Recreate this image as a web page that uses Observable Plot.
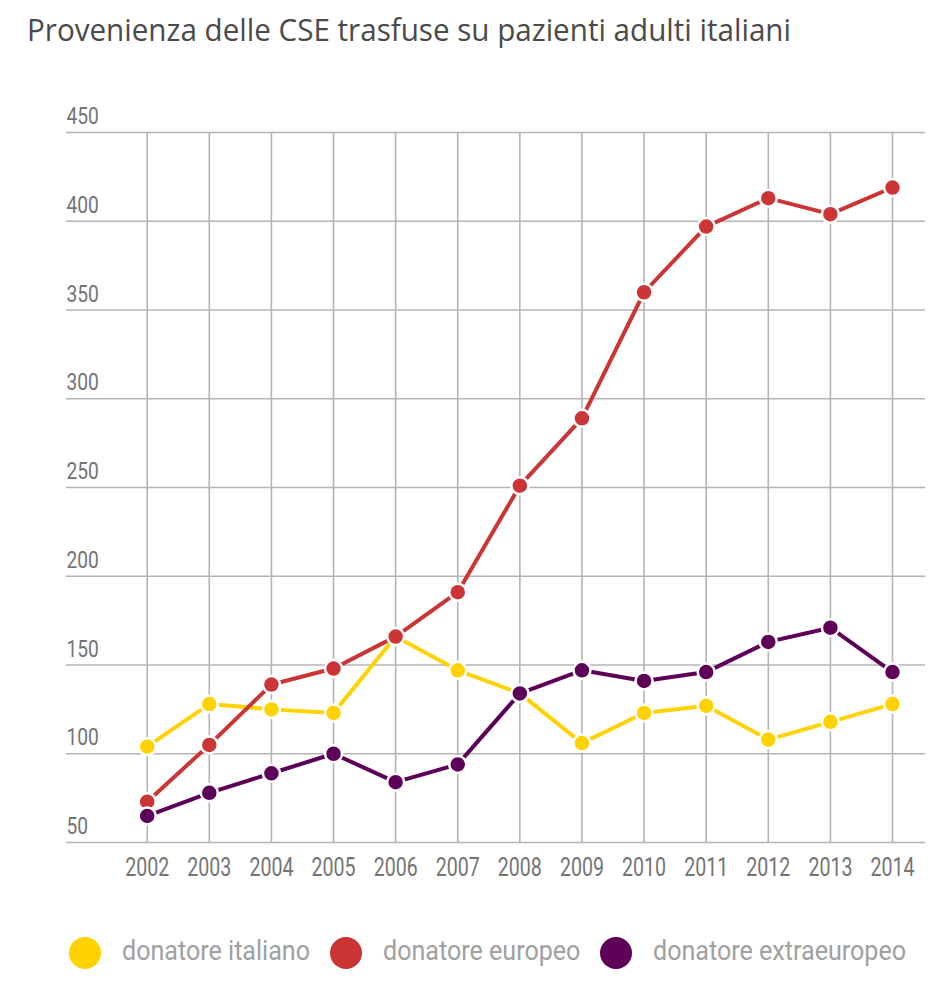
<!DOCTYPE html>
<html>
<head>
<meta charset="utf-8">
<script src="https://cdn.jsdelivr.net/npm/d3@7"></script>
<script src="https://cdn.jsdelivr.net/npm/@observablehq/plot@0.6"></script>
<style>
  html, body { margin: 0; padding: 0; background: #fff; }
  body { width: 952px; height: 986px; position: relative; overflow: hidden; }
  #title { position: absolute; left: 27px; top: 14px; font-family: "Open Sans", sans-serif; font-size: 31px; color: #4a4a4a; white-space: nowrap; transform-origin: 0 0; line-height: 1; }
  #chart { position: absolute; left: 0; top: 80px; }
  #legend { position: absolute; left: 69px; top: 936px; height: 34px; display: flex; align-items: center; font-family: Roboto, sans-serif; font-size: 28px; color: #a0a0a0; white-space: nowrap; }
  .item { display: flex; align-items: center; margin-right: 20px; }
  .sw { width: 32px; height: 32px; border-radius: 50%; margin-right: 21px; flex: none; }
  .lab { position: relative; top: -3px; display: inline-block; transform-origin: 0 50%; }
</style>
</head>
<body>
<div id="title">Provenienza delle CSE trasfuse su pazienti adulti italiani</div>
<div id="chart"></div>
<div id="legend"></div>
<script>
const years = [2002, 2003, 2004, 2005, 2006, 2007, 2008, 2009, 2010, 2011, 2012, 2013, 2014];
const italiano = [104, 128, 125, 123, 166, 147, 134, 106, 123, 127, 108, 118, 128];
const europeo = [73, 105, 139, 148, 166, 191, 251, 289, 360, 397, 413, 404, 419];
const extraeuropeo = [65, 78, 89, 100, 84, 94, 134, 147, 141, 146, 163, 171, 146];
const seriesNames = ["donatore italiano", "donatore europeo", "donatore extraeuropeo"];
const seriesColors = ["#FFD200", "#CC3535", "#5E0058"];
const yTicks = [50, 100, 150, 200, 250, 300, 350, 400, 450];

const seriesValues = [italiano, europeo, extraeuropeo];
const rows = [];
seriesNames.forEach((name, i) => {
  years.forEach((yr, j) => rows.push({series: name, year: yr, value: seriesValues[i][j]}));
});

const seriesMarks = [];
seriesNames.forEach((name, i) => {
  const d = rows.filter(r => r.series === name);
  seriesMarks.push(Plot.line(d, {x: "year", y: "value", stroke: seriesColors[i], strokeWidth: 4, strokeLinejoin: "round"}));
  seriesMarks.push(Plot.dot(d, {x: "year", y: "value", r: 8.5, fill: seriesColors[i], stroke: "#fff", strokeWidth: 2.5}));
});

const chart = Plot.plot({
  width: 952,
  height: 820,
  marginTop: 52,
  marginBottom: 58,
  marginLeft: 66,
  marginRight: 27,
  style: {fontFamily: 'Roboto, sans-serif', background: "#fff"},
  x: {domain: [2002, 2014], range: [146.7, 892], axis: null, label: null},
  y: {domain: [50, 450], axis: null, label: null},
  marks: [
    Plot.gridX(years, {stroke: "#b4b4b4", strokeOpacity: 1, strokeWidth: 1.6}),
    Plot.gridY(yTicks, {stroke: "#b4b4b4", strokeOpacity: 1, strokeWidth: 1.6}),
    Plot.axisX(years, {tickSize: 0, tickPadding: 16, tickFormat: d => String(d), fontSize: 25, fill: "#747474", label: null}),
    Plot.text(yTicks, {y: d => d, text: d => String(d), frameAnchor: "left", textAnchor: "start", lineAnchor: "bottom", dy: -8.5, fontSize: 24.5, fill: "#747474"}),
    ...seriesMarks
  ]
});
document.getElementById("chart").appendChild(chart);

// condense tick label glyphs (reference uses a narrow typeface)
const texts = chart.querySelectorAll("text");
let fx = null;
texts.forEach(t => {
  const len = t.getComputedTextLength();
  if (fx === null && t.textContent === "2002") fx = 44 / len;
});
if (!fx) fx = 0.8;
texts.forEach(t => {
  const len = t.getComputedTextLength();
  t.setAttribute("textLength", (len * fx).toFixed(2));
  t.setAttribute("lengthAdjust", "spacingAndGlyphs");
});

const legend = document.getElementById("legend");
const labs = [];
seriesNames.forEach((name, i) => {
  const item = document.createElement("div");
  item.className = "item";
  const sw = document.createElement("div");
  sw.className = "sw";
  sw.style.background = seriesColors[i];
  const lab = document.createElement("span");
  lab.className = "lab";
  lab.textContent = name;
  item.appendChild(sw);
  item.appendChild(lab);
  legend.appendChild(item);
  labs.push(lab);
});
const fl = 188 / labs[0].getBoundingClientRect().width;
labs.forEach(lab => {
  const w = lab.getBoundingClientRect().width;
  lab.style.transform = `scaleX(${fl})`;
  lab.style.marginRight = `${-(1 - fl) * w}px`;
});

const title = document.getElementById("title");
const w = title.getBoundingClientRect().width;
title.style.transform = `scaleX(${764 / w})`;
</script>
</body>
</html>
